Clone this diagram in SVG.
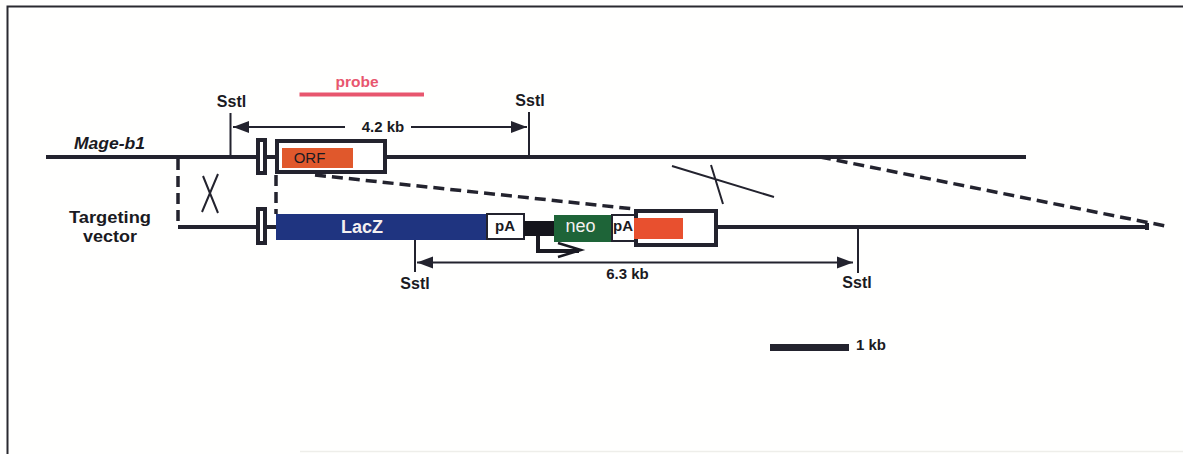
<svg xmlns="http://www.w3.org/2000/svg" width="1183" height="454" viewBox="0 0 1183 454">
<style>
text{font-family:"Liberation Sans",Arial,sans-serif;fill:#1a1a22}
.b{font-weight:700}
.c{text-anchor:middle}
.lab{font-size:15px;font-weight:700;text-anchor:middle}
.site{font-size:16px;font-weight:700;text-anchor:middle}
.w{fill:#f4f0f0}
.gene{stroke:#23232e;stroke-width:4;fill:none}
.dash{stroke:#23232e;fill:none;stroke-width:3.500;stroke-dasharray:11 6}
.thin{stroke:#23232e;fill:none;stroke-width:2}
.dim{stroke:#23232e;fill:none;stroke-width:2}
.box{fill:#fff;stroke:#23232e;stroke-width:4}
.exon{fill:#fff;stroke:#23232e;stroke-width:4}
.pa{fill:#fff;stroke:#23232e;stroke-width:2}
</style>
<defs>
<marker id="head" markerUnits="userSpaceOnUse" markerWidth="18" markerHeight="14" refX="16" refY="7" orient="auto-start-reverse"><path d="M0 1L16 7L0 13Z" fill="#23232e"/></marker>
</defs>
<rect width="1183" height="454" fill="#fffffe"/>
<g id="frame">
<path d="M7.500 454V6.500H1183" fill="none" stroke="#2a2a30" stroke-width="2"/>
<path d="M300 451.500H1183" fill="none" stroke="#eeeeea" stroke-width="1.500"/>
</g>
<g id="connectors">
<path class="gene" d="M46 157H256M266 157H276M386 157H1026"/>
<path class="gene" d="M178 227H256M266 227H276M718 227H1148"/>
<rect x="1145" y="223" width="4" height="7" fill="#23232e"/>
<path class="dash" d="M178 159V225"/>
<path class="dash" d="M276 175V214"/>
<path class="dash" d="M315 175L634 209"/>
<path class="dash" d="M820 157L1168 226.500"/>
<path class="dim" d="M202 212L218 174M203 176L218 213"/>
<path class="dim" d="M672 166L774 197M711 165L723 204"/>
<path class="thin" d="M230.500 113V157M529 112V157M415 240V272M858 227V273"/>
<path class="dim" d="M345 127H233" marker-end="url(#head)"/>
<path class="dim" d="M411 127H527" marker-end="url(#head)"/>
<path class="dim" d="M417 262.500H853" marker-start="url(#head)" marker-end="url(#head)"/>
<path d="M538 236V251H579" stroke="#1a1a22" stroke-width="4" fill="none"/>
<path d="M558 243L581 250L558 257" stroke="#1a1a22" stroke-width="2.500" fill="none"/>
</g>
<g id="probe">
<text x="357" y="87" class="c b" font-size="15" textLength="43" lengthAdjust="spacingAndGlyphs" style="fill:#e8566e">probe</text>
<path d="M299.500 94.500H424" stroke="#e8566e" stroke-width="4"/>
</g>
<g id="site-1"><text x="231.500" y="107" class="site">Sstl</text></g>
<g id="site-2"><text x="530" y="106" class="site">Sstl</text></g>
<g id="site-3"><text x="415" y="289" class="site">Sstl</text></g>
<g id="site-4"><text x="857" y="288" class="site">Sstl</text></g>
<g id="label-4-2kb"><text x="383" y="132" class="lab">4.2 kb</text></g>
<g id="label-6-3kb"><text x="627.500" y="279" class="lab">6.3 kb</text></g>
<g id="label-mage"><text x="74" y="149" class="b" font-size="16" font-style="italic" textLength="71" lengthAdjust="spacingAndGlyphs">Mage-b1</text></g>
<g id="label-vector">
<text x="110" y="222.500" class="c b" font-size="16" textLength="82" lengthAdjust="spacingAndGlyphs">Targeting</text>
<text x="110" y="241.500" class="c b" font-size="16" textLength="54" lengthAdjust="spacingAndGlyphs">vector</text>
</g>
<g id="exon-top"><rect class="exon" x="258" y="140" width="7" height="33"/></g>
<g id="exon-bottom"><rect class="exon" x="258" y="209" width="7" height="34"/></g>
<g id="orf-box">
<rect class="box" x="277" y="141" width="108" height="31"/>
<rect x="282" y="148" width="71" height="20" fill="#e0582c"/>
<text x="309.500" y="162.500" class="c" font-size="15">ORF</text>
</g>
<g id="lacz">
<rect x="276" y="214" width="210" height="26" fill="#1f3480"/>
<text x="362" y="232.500" class="c b w" font-size="18" textLength="42" lengthAdjust="spacingAndGlyphs">LacZ</text>
</g>
<g id="pa-1">
<rect class="pa" x="487" y="214" width="37" height="25"/>
<text x="505" y="231" class="c b" font-size="15">pA</text>
</g>
<g id="promoter"><rect x="524" y="221" width="30" height="15" fill="#15151c"/></g>
<g id="neo">
<rect x="554" y="215" width="58" height="27" fill="#1e6438"/>
<text x="580.500" y="232" class="c w" font-size="18">neo</text>
</g>
<g id="pa-2">
<rect class="pa" x="612" y="215" width="23" height="26"/>
<text x="623" y="231" class="c b" font-size="15">pA</text>
</g>
<g id="orf-box-2">
<rect class="box" x="636" y="211" width="80" height="34"/>
<rect x="634" y="218" width="49" height="21" fill="#e8502f"/>
</g>
<g id="scale">
<rect x="770" y="344" width="79" height="7" fill="#23232e"/>
<text x="856" y="350" class="b" font-size="15">1 kb</text>
</g>
</svg>
